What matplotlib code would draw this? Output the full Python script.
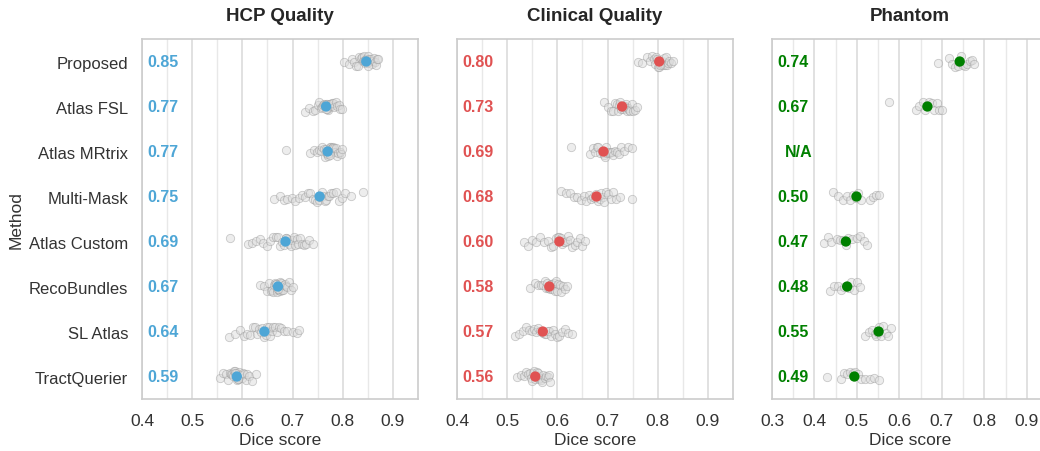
"""Dice score comparison: HCP / clinical / phantom"""

import numpy as np
import pandas as pd
import matplotlib
matplotlib.use("Agg")
import matplotlib.pyplot as plt
import seaborn as sns

methods = ["Proposed", "Atlas FSL", "Atlas MRtrix", "Multi-Mask",
           "Atlas Custom", "RecoBundles", "SL Atlas", "TractQuerier"]

# per-subject dice scores
hcp_scores = {
    "Proposed": [0.803, 0.812, 0.818, 0.822, 0.826, 0.830, 0.833, 0.836, 0.838, 0.840, 0.842, 0.843, 0.845, 0.846, 0.848,
                 0.849, 0.850, 0.852, 0.853, 0.855, 0.856, 0.858, 0.860, 0.862, 0.864, 0.866, 0.869, 0.871, 0.845, 0.851],
    "Atlas FSL": [0.724, 0.733, 0.740, 0.745, 0.750, 0.753, 0.756, 0.758, 0.760, 0.762, 0.764, 0.765, 0.767, 0.768, 0.770,
                  0.771, 0.772, 0.774, 0.775, 0.777, 0.779, 0.781, 0.783, 0.786, 0.789, 0.792, 0.795, 0.798, 0.769, 0.766],
    "Atlas MRtrix": [0.688, 0.734, 0.742, 0.748, 0.752, 0.756, 0.759, 0.762, 0.764, 0.766, 0.768, 0.769, 0.771, 0.772, 0.773,
                     0.775, 0.776, 0.778, 0.779, 0.781, 0.783, 0.785, 0.787, 0.789, 0.791, 0.794, 0.797, 0.799, 0.770, 0.774],
    "Multi-Mask": [0.664, 0.676, 0.683, 0.690, 0.698, 0.705, 0.712, 0.718, 0.724, 0.730, 0.735, 0.740, 0.744, 0.748, 0.752,
                   0.755, 0.758, 0.761, 0.764, 0.767, 0.770, 0.773, 0.777, 0.781, 0.786, 0.792, 0.798, 0.805, 0.816, 0.840],
    "Atlas Custom": [0.576, 0.611, 0.620, 0.628, 0.635, 0.642, 0.650, 0.656, 0.662, 0.667, 0.672, 0.676, 0.680, 0.684, 0.687,
                     0.690, 0.693, 0.696, 0.699, 0.702, 0.705, 0.708, 0.711, 0.714, 0.718, 0.722, 0.727, 0.732, 0.740, 0.688],
    "RecoBundles": [0.635, 0.643, 0.649, 0.654, 0.657, 0.660, 0.662, 0.664, 0.666, 0.667, 0.669, 0.670, 0.671, 0.672, 0.673,
                    0.674, 0.675, 0.676, 0.678, 0.679, 0.681, 0.683, 0.685, 0.687, 0.690, 0.693, 0.697, 0.700, 0.672, 0.668],
    "SL Atlas": [0.573, 0.585, 0.595, 0.603, 0.610, 0.616, 0.621, 0.626, 0.630, 0.634, 0.637, 0.640, 0.643, 0.645, 0.647,
                 0.649, 0.651, 0.653, 0.656, 0.659, 0.662, 0.665, 0.669, 0.673, 0.677, 0.683, 0.690, 0.700, 0.708, 0.712],
    "TractQuerier": [0.555, 0.562, 0.567, 0.571, 0.575, 0.578, 0.580, 0.582, 0.584, 0.586, 0.587, 0.588, 0.589, 0.590, 0.591,
                     0.592, 0.593, 0.594, 0.596, 0.598, 0.600, 0.602, 0.604, 0.607, 0.610, 0.614, 0.620, 0.627, 0.585, 0.591],
}
clinical_scores = {
    "Proposed": [0.760, 0.769, 0.778, 0.784, 0.788, 0.792, 0.795, 0.797, 0.799, 0.801, 0.803, 0.804, 0.806, 0.808, 0.809,
                 0.811, 0.813, 0.815, 0.817, 0.819, 0.821, 0.823, 0.826, 0.830, 0.805],
    "Atlas FSL": [0.693, 0.700, 0.706, 0.711, 0.715, 0.718, 0.721, 0.723, 0.725, 0.727, 0.729, 0.730, 0.732, 0.734, 0.735,
                  0.737, 0.739, 0.741, 0.743, 0.745, 0.748, 0.751, 0.755, 0.759, 0.731],
    "Atlas MRtrix": [0.628, 0.666, 0.671, 0.675, 0.679, 0.682, 0.685, 0.688, 0.690, 0.692, 0.694, 0.696, 0.698, 0.700, 0.702,
                     0.705, 0.708, 0.711, 0.714, 0.718, 0.722, 0.727, 0.733, 0.741, 0.749],
    "Multi-Mask": [0.608, 0.617, 0.625, 0.633, 0.640, 0.647, 0.653, 0.658, 0.663, 0.667, 0.671, 0.675, 0.678, 0.681, 0.684,
                   0.687, 0.690, 0.693, 0.697, 0.701, 0.706, 0.711, 0.717, 0.724, 0.749],
    "Atlas Custom": [0.534, 0.542, 0.550, 0.558, 0.566, 0.574, 0.581, 0.587, 0.592, 0.597, 0.601, 0.604, 0.607, 0.610, 0.613,
                     0.616, 0.619, 0.622, 0.626, 0.630, 0.635, 0.640, 0.645, 0.650, 0.656],
    "RecoBundles": [0.546, 0.555, 0.562, 0.567, 0.571, 0.575, 0.578, 0.580, 0.582, 0.584, 0.586, 0.587, 0.588, 0.590, 0.591,
                    0.593, 0.595, 0.597, 0.599, 0.602, 0.605, 0.608, 0.612, 0.616, 0.619],
    "SL Atlas": [0.516, 0.524, 0.531, 0.538, 0.544, 0.549, 0.554, 0.558, 0.562, 0.566, 0.569, 0.572, 0.575, 0.578, 0.581,
                 0.584, 0.587, 0.591, 0.595, 0.599, 0.604, 0.610, 0.616, 0.622, 0.629],
    "TractQuerier": [0.519, 0.527, 0.533, 0.538, 0.542, 0.545, 0.548, 0.550, 0.552, 0.554, 0.556, 0.557, 0.559, 0.560, 0.562,
                     0.564, 0.566, 0.568, 0.570, 0.572, 0.575, 0.578, 0.581, 0.584, 0.586],
}
phantom_scores = {
    "Proposed": [0.691, 0.717, 0.725, 0.731, 0.737, 0.741, 0.745, 0.749, 0.754, 0.760, 0.766, 0.772, 0.776],
    "Atlas FSL": [0.576, 0.639, 0.647, 0.655, 0.660, 0.665, 0.670, 0.676, 0.682, 0.688, 0.694, 0.700],
    "Atlas MRtrix": [],
    "Multi-Mask": [0.444, 0.456, 0.468, 0.476, 0.483, 0.490, 0.497, 0.503, 0.510, 0.530, 0.538, 0.544, 0.551],
    "Atlas Custom": [0.423, 0.431, 0.440, 0.452, 0.460, 0.467, 0.474, 0.480, 0.488, 0.500, 0.508, 0.516, 0.523],
    "RecoBundles": [0.436, 0.446, 0.456, 0.463, 0.470, 0.476, 0.481, 0.487, 0.493, 0.500, 0.507],
    "SL Atlas": [0.518, 0.528, 0.536, 0.542, 0.546, 0.550, 0.553, 0.557, 0.562, 0.568, 0.574, 0.580],
    "TractQuerier": [0.429, 0.462, 0.470, 0.477, 0.484, 0.490, 0.496, 0.503, 0.510, 0.520, 0.530, 0.541, 0.551],
}

# mean dice per method (None = not available)
hcp_mean = [0.847, 0.767, 0.770, 0.754, 0.686, 0.671, 0.644, 0.589]
clinical_mean = [0.803, 0.729, 0.692, 0.678, 0.604, 0.584, 0.571, 0.556]
phantom_mean = [0.742, 0.666, None, 0.499, 0.474, 0.477, 0.551, 0.494]

titles = ["HCP Quality", "Clinical Quality", "Phantom"]
colors = ["#4ea6d6", "#e05252", "green"]
xlims = [(0.4, 0.95), (0.4, 0.95), (0.3, 0.95)]
xticks = [[0.4, 0.5, 0.6, 0.7, 0.8, 0.9],
          [0.4, 0.5, 0.6, 0.7, 0.8, 0.9],
          [0.3, 0.4, 0.5, 0.6, 0.7, 0.8, 0.9]]

sns.set_theme(style="whitegrid")
plt.rcParams["font.family"] = ["Liberation Sans", "DejaVu Sans"]
np.random.seed(3)

fig = plt.figure(figsize=(10.4, 4.52), dpi=100)
lefts = [0.1365, 0.4394, 0.7423]

for i, (scores, means) in enumerate(zip([hcp_scores, clinical_scores, phantom_scores],
                                        [hcp_mean, clinical_mean, phantom_mean])):
    ax = fig.add_axes([lefts[i], 0.115, 0.2654, 0.7965])
    df = pd.DataFrame([(m, v) for m in methods for v in scores[m]], columns=["method", "dice"])

    sns.stripplot(data=df, x="dice", y="method", order=methods, orient="h",
                  jitter=0.12, color="#dcdcdc", edgecolor="#9a9a9a", linewidth=0.6,
                  alpha=0.5, size=6, ax=ax, zorder=2)

    ys = [k for k, m in enumerate(means) if m is not None]
    xs = [m for m in means if m is not None]
    ax.scatter(xs, ys, s=55, color=colors[i], zorder=5, edgecolor="none")

    # mean value text at left edge
    for k, m in enumerate(means):
        label = "N/A" if m is None else f"{m:.2f}"
        ax.text(0.02 if m is not None else 0.045, k, label, transform=ax.get_yaxis_transform(),
                ha="left", va="center", color=colors[i], fontsize=11.5, fontweight="bold", zorder=6)

    ax.set_xlim(*xlims[i])
    ax.set_ylim(7.5, -0.5)
    ax.set_xticks(xticks[i])
    ax.set_xticklabels([f"{t:.1f}" for t in xticks[i]])
    ax.set_xticks(np.arange(xlims[i][0] + 0.05, 0.95, 0.1), minor=True)
    ax.grid(True, axis="x", which="major", color="#d9d9d9", linewidth=1.1)
    ax.grid(True, axis="x", which="minor", color="#e8e8e8", linewidth=1.0)
    ax.grid(False, axis="y")
    ax.tick_params(axis="x", which="both", length=0, labelsize=12.5, colors="#333333", pad=10)
    ax.tick_params(axis="y", length=0, labelsize=12, colors="#333333", pad=10)
    for s in ax.spines.values():
        s.set_color("#cccccc")
        s.set_linewidth(1.2)

    ax.set_title(titles[i], fontsize=13.5, fontweight="bold", pad=14)
    ax.set_xlabel("Dice score", fontsize=12.5, color="#333333", labelpad=3)
    if i == 0:
        ax.set_ylabel("Method", fontsize=12.5, color="#333333", labelpad=4)
    else:
        ax.set_ylabel("")
        ax.set_yticklabels([])

plt.savefig("out.png", dpi=100)
